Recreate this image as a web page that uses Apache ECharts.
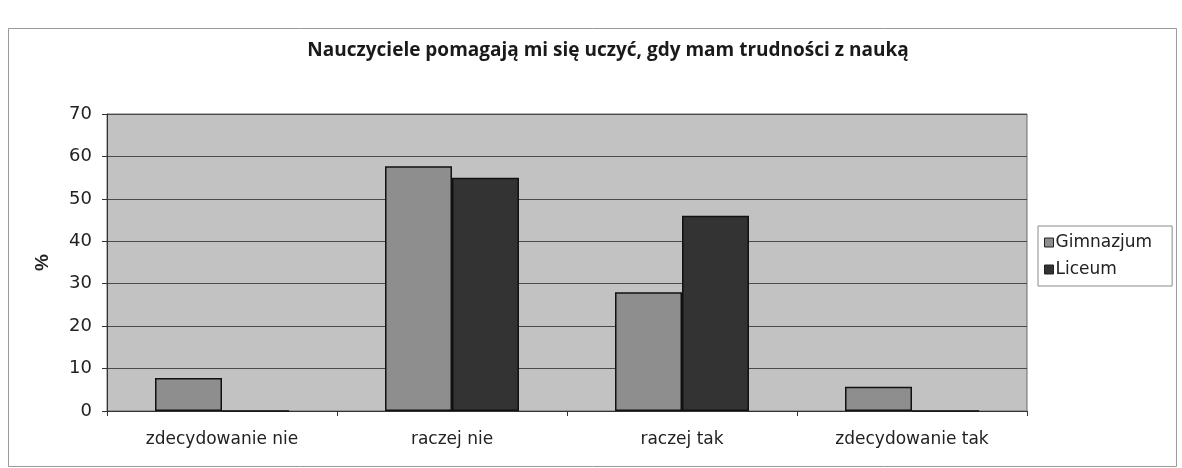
<!DOCTYPE html>
<html>
<head>
<meta charset="utf-8">
<script src="https://cdn.jsdelivr.net/npm/echarts@6/dist/echarts.min.js"></script>
<style>
html,body{margin:0;padding:0;background:#fff;}
#c{width:1182px;height:468px;}
</style>
</head>
<body>
<div id="c"></div>
<script>
const titleText = 'Nauczyciele pomagają mi się uczyć, gdy mam trudności z nauką';
const categories = ['zdecydowanie nie', 'raczej nie', 'raczej tak', 'zdecydowanie tak'];
const gimnazjum = [7.8, 57.7, 28, 5.7];
const liceum = [0, 55, 46, 0];
const yTicks = [0, 10, 20, 30, 40, 50, 60, 70];

const chart = echarts.init(document.getElementById('c'), null, {renderer: 'canvas'});
chart.setOption({
  backgroundColor: '#ffffff',
  animation: false,
  graphic: [
    {type: 'rect', shape: {x: 8.5, y: 28.5, width: 1168, height: 438}, style: {fill: 'none', stroke: '#9a9a9a', lineWidth: 1}, z: -10}
  ],
  title: {
    text: titleText,
    left: 603, textAlign: 'center', top: 36,
    textStyle: {fontFamily: 'Open Sans', fontWeight: 'bold', fontSize: 19, color: '#1a1a1a'}
  },
  legend: {
    orient: 'vertical',
    left: 1038, top: 226,
    itemWidth: 9, itemHeight: 9, itemGap: 10,
    padding: [8, 20, 8, 6],
    borderColor: '#8a8a8a', borderWidth: 1, backgroundColor: '#fff',
    icon: 'rect',
    itemStyle: {borderColor: '#222', borderWidth: 1},
    textStyle: {fontFamily: 'DejaVu Sans', fontSize: 17, color: '#222', padding: [0, 0, 0, -3]},
    data: ['Gimnazjum', 'Liceum']
  },
  grid: {left: 107, right: 155, top: 114, bottom: 57, show: true, backgroundColor: '#c2c2c2', borderColor: '#6a6a6a', borderWidth: 1},
  xAxis: {
    type: 'category',
    data: categories,
    axisLine: {show: true, lineStyle: {color: '#333', width: 1}},
    axisTick: {show: true, length: 5, lineStyle: {color: '#333'}},
    axisLabel: {fontFamily: 'DejaVu Sans', fontSize: 17, color: '#222', margin: 20}
  },
  yAxis: {
    type: 'value',
    min: 0, max: 70, interval: 10,
    name: '%', nameLocation: 'middle', nameGap: 55, nameRotate: 90,
    nameTextStyle: {fontFamily: 'Liberation Sans', fontWeight: 'bold', fontSize: 19, color: '#222'},
    axisLine: {show: true, lineStyle: {color: '#333', width: 1}},
    axisTick: {show: true, length: 5, lineStyle: {color: '#333'}},
    axisLabel: {fontFamily: 'DejaVu Sans', fontSize: 18, color: '#222', margin: 15,
      formatter: v => yTicks.includes(v) ? String(v) : ''},
    splitLine: {show: true, lineStyle: {color: '#4a4a4a', width: 1}}
  },
  series: [
    {name: 'Gimnazjum', type: 'bar', data: gimnazjum, barWidth: 67, barGap: '0%',
      itemStyle: {color: '#8e8e8e', borderColor: '#111', borderWidth: 1.5}},
    {name: 'Liceum', type: 'bar', data: liceum, barWidth: 67, barGap: '0%',
      itemStyle: {color: '#333333', borderColor: '#111', borderWidth: 1.5}}
  ]
});
</script>
</body>
</html>
